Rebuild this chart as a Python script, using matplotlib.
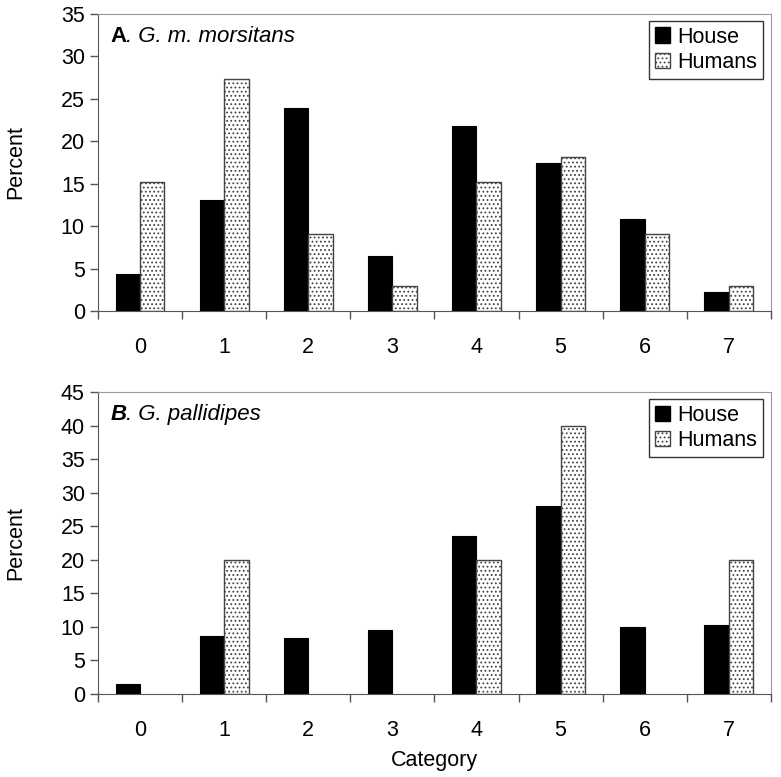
import numpy as np
import matplotlib.pyplot as plt
from matplotlib.patches import Patch

categorias = [0, 1, 2, 3, 4, 5, 6, 7]
house_a = [4.4, 13.1, 23.9, 6.5, 21.8, 17.4, 10.9, 2.2]
humans_a = [15.2, 27.3, 9.1, 3.0, 15.2, 18.2, 9.1, 3.0]
house_b = [1.5, 8.6, 8.3, 9.5, 23.5, 28.0, 10.0, 10.3]
humans_b = [0, 20, 0, 0, 20, 40, 0, 20]

plt.rcParams['font.family'] = ['Liberation Sans', 'DejaVu Sans']
plt.rcParams['hatch.color'] = '#666666'
plt.rcParams['hatch.linewidth'] = 0.8

fs = 15.5
fig = plt.figure(figsize=(7.81, 7.77), dpi=100)
ax1 = fig.add_axes([0.1255, 0.5997, 0.8615, 0.3823])
ax2 = fig.add_axes([0.1255, 0.1068, 0.8615, 0.3887])

w = 0.29
x = np.array(categorias)

def dibujar(ax, house, humans, ymax, titulo, letra_estilo):
    ax.bar(x - w/2, house, w, color='black', edgecolor='black', linewidth=0.8)
    hum = np.array(humans, dtype=float)
    mask = hum > 0
    ax.bar(x[mask] + w/2, hum[mask], w, color='white', edgecolor='#444444',
           hatch='....', linewidth=1.0)
    ax.set_xlim(-0.5, 7.5)
    ax.set_ylim(0, ymax)
    ax.set_yticks(np.arange(0, ymax + 1, 5))
    ax.set_xticks(x)
    ax.set_xticklabels([str(c) for c in categorias])
    # ticks entre categorias
    ax.set_xticks(np.arange(-0.5, 8, 1), minor=True)
    ax.tick_params(axis='x', which='major', length=0, labelsize=fs, pad=19)
    ax.tick_params(axis='x', which='minor', length=6, width=1, color='#555555', direction='out')
    ax.tick_params(axis='y', length=6, width=1, color='#555555', labelsize=fs, direction='out')
    for s in ['top', 'right']:
        ax.spines[s].set_color('#999999')
    for s in ['left', 'bottom']:
        ax.spines[s].set_color('#555555')
    ax.set_ylabel('Percent', fontsize=fs, labelpad=25)
    t1 = ax.text(0.018, 0.96, titulo[0], transform=ax.transAxes, fontsize=16,
                 fontweight='bold', fontstyle=letra_estilo, va='top')
    ax.annotate(titulo[1], xy=(1, 0), xycoords=t1, fontsize=16,
                fontstyle='italic', va='bottom')
    handles = [Patch(facecolor='black', edgecolor='black', label='House'),
               Patch(facecolor='white', edgecolor='#444444', hatch='....', label='Humans')]
    leg = ax.legend(handles=handles, loc='upper right', fontsize=fs, frameon=True,
                    fancybox=False, edgecolor='black', handlelength=0.7,
                    handleheight=0.7, handletextpad=0.3, borderpad=0.28,
                    labelspacing=0.2, borderaxespad=0, bbox_to_anchor=(0.988, 0.978))
    leg.get_frame().set_linewidth(1.0)

dibujar(ax1, house_a, humans_a, 35, ('A', '. G. m. morsitans'), 'normal')
dibujar(ax2, house_b, humans_b, 45, ('B', '. G. pallidipes'), 'italic')
ax2.set_xlabel('Category', fontsize=fs, labelpad=6)

fig.savefig('out.png', dpi=100)
